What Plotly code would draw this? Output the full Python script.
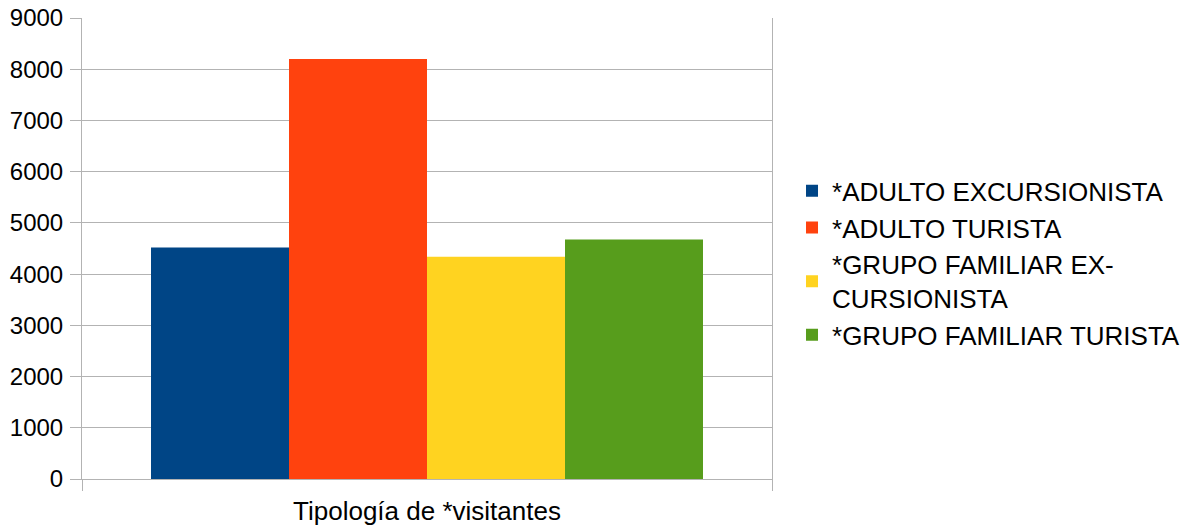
import plotly.graph_objects as go

# Tipología de visitantes
series = ["*ADULTO EXCURSIONISTA", "*ADULTO TURISTA",
          "*GRUPO FAMILIAR EX-<br>CURSIONISTA", "*GRUPO FAMILIAR TURISTA"]
values = [4520, 8200, 4340, 4675]
colors = ["#004586", "#ff420e", "#ffd320", "#579d1c"]
y_ticks = [0, 1000, 2000, 3000, 4000, 5000, 6000, 7000, 8000, 9000]

grid = "#b3b3b3"

fig = go.Figure()
for i, (name, val, col) in enumerate(zip(series, values, colors)):
    fig.add_trace(go.Bar(
        x=[0], y=[val], name=name,
        marker=dict(color=col, line=dict(width=0)),
        legendgroup=f"g{i}",
    ))

fig.update_layout(
    width=1189, height=529,
    margin=dict(l=82, r=417, t=18, b=50, autoexpand=False),
    barmode="group", bargap=0.2, bargroupgap=0,
    plot_bgcolor="white", paper_bgcolor="white",
    font=dict(family="Liberation Sans, Arial, sans-serif", size=24, color="black"),
    legend=dict(
        x=1.029, xanchor="left", y=0.468, yanchor="middle",
        font=dict(size=26), tracegroupgap=0,
        bgcolor="rgba(0,0,0,0)",
    ),
    xaxis=dict(
        range=[-0.5, 0.5], tickvals=[-0.5, 0.5], ticktext=["", ""],
        ticks="outside", ticklen=11, tickcolor=grid, tickwidth=1,
        showgrid=False, zeroline=False, showline=True, linecolor=grid,
        title=dict(text="Tipología de *visitantes", standoff=6,
                   font=dict(size=26)),
    ),
    yaxis=dict(
        range=[0, 9000], tickvals=y_ticks,
        ticks="outside", ticklen=11, tickcolor=grid, tickwidth=1,
        showgrid=True, gridcolor=grid, gridwidth=1,
        zeroline=False, showline=True, linecolor=grid, mirror=True,
        ticklabelstandoff=2,
    ),
)

fig.write_html("out.html", config={"displayModeBar": False},
               post_script="document.body.style.margin='0';")
